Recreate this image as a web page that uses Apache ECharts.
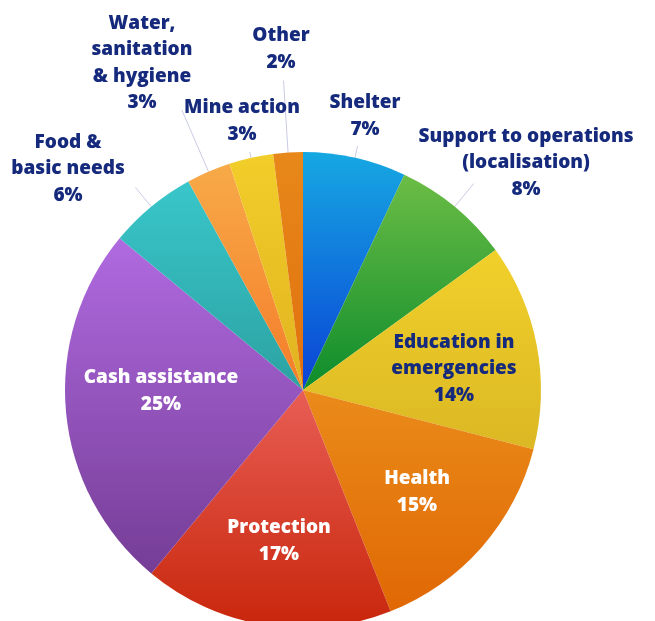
<!DOCTYPE html>
<html>
<head>
<meta charset="utf-8">
<script src="https://cdn.jsdelivr.net/npm/echarts@6/dist/echarts.min.js"></script>
<style>
html,body{margin:0;padding:0;background:#fff;}
#c{width:655px;height:621px;}
</style>
</head>
<body>
<div id="c"></div>
<script>
// Data
const categories = ["Shelter", "Support to operations\n(localisation)", "Education in\nemergencies", "Health", "Protection", "Cash assistance", "Food &\nbasic needs", "Water,\nsanitation\n& hygiene", "Mine action", "Other"];
const shares = [7, 8, 14, 15, 17, 25, 6, 3, 3, 2];

// Styles (not data)
const gradTop = ["#16a8e2", "#6cbd45", "#f1d02b", "#ea8b1a", "#e85e55", "#b06ae0", "#39c6ca", "#f7aa48", "#f2ce2a", "#e8881a"];
const gradBot = ["#0a42d6", "#0d8c2c", "#dbb824", "#e06804", "#c8260b", "#753d96", "#2ca2a2", "#f57c2a", "#e0b21f", "#e0700e"];
const labelColor = ["#152a7c", "#152a7c", "#152a7c", "#ffffff", "#ffffff", "#ffffff", "#152a7c", "#152a7c", "#152a7c", "#152a7c"];
const outside = [true, true, false, false, false, false, true, true, true, true];
const lineLen = [12, 30, 0, 0, 0, 0, 25, 67, 6, 72];
// label block centres
const labelPos = [[365, 116], [526, 163], [454, 369], [417, 492], [279, 541], [161, 391], [68, 169], [142, 63], [242, 121], [281, 49]];

const chart = echarts.init(document.getElementById('c'));
const data = categories.map((name, i) => ({
  name: name,
  value: shares[i],
  itemStyle: {
    color: new echarts.graphic.LinearGradient(0, 0, 0, 1, [
      {offset: 0, color: gradTop[i]},
      {offset: 1, color: gradBot[i]}
    ])
  },
  label: {
    position: outside[i] ? 'outside' : 'inside',
    color: labelColor[i]
  },
  labelLine: {
    show: outside[i],
    length: lineLen[i],
    length2: 0
  }
}));

chart.setOption({
  animation: false,
  series: [{
    type: 'pie',
    center: [303, 390],
    radius: 238,
    startAngle: 90,
    clockwise: true,
    avoidLabelOverlap: false,
    data: data,
    label: {
      formatter: p => p.name + '\n' + p.value + '%',
      fontFamily: 'Open Sans',
      fontWeight: 800,
      fontSize: 19,
      lineHeight: 26.5,
      align: 'center'
    },
    labelLine: {
      lineStyle: {color: '#c9cbe3', width: 1},
      smooth: false
    },
    labelLayout: function (params) {
      const i = params.dataIndex;
      const res = {x: labelPos[i][0], y: labelPos[i][1], align: 'center', verticalAlign: 'middle'};
      if (outside[i] && params.labelLinePoints) {
        res.labelLinePoints = params.labelLinePoints;
      }
      return res;
    }
  }]
});
</script>
</body>
</html>
